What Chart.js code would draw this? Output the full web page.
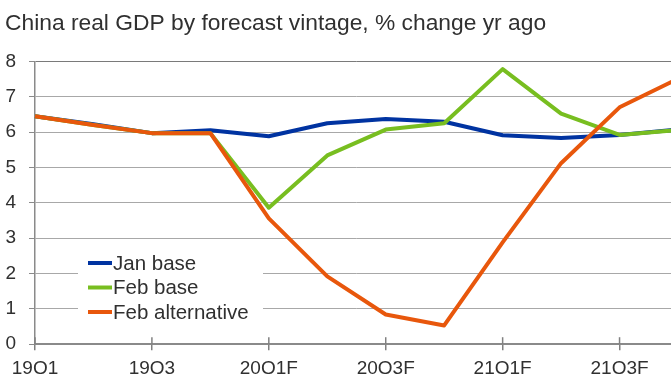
<!DOCTYPE html>
<html>
<head>
<meta charset="utf-8">
<title>China real GDP by forecast vintage</title>
<script src="https://cdn.jsdelivr.net/npm/chart.js@4.4.1/dist/chart.umd.min.js"></script>
<style>
    html, body { margin: 0; padding: 0; background: #fff; overflow: hidden; }
    #wrap { position: relative; width: 671px; height: 374px; overflow: hidden; }
    #gdpChart { position: absolute; left: 0; top: 0; }
</style>
</head>
<body>
<div id="wrap"><canvas id="gdpChart" width="690" height="390"></canvas></div>
<script>
// Quarters (last one runs off the right edge of the picture)
const QUARTERS = ['19Q1', '19Q2', '19Q3', '19Q4', '20Q1F', '20Q2F', '20Q3F', '20Q4F', '21Q1F', '21Q2F', '21Q3F', '21Q4F'];

// % change yr ago
const JAN_BASE = [6.45, 6.22, 5.97, 6.05, 5.88, 6.25, 6.37, 6.29, 5.91, 5.83, 5.92, 6.07];
const FEB_BASE = [6.45, 6.20, 5.97, 5.97, 3.86, 5.34, 6.07, 6.25, 7.78, 6.52, 5.92, 6.06];
const FEB_ALT  = [6.45, 6.20, 5.97, 5.97, 3.56, 1.92, 0.84, 0.53, 2.88, 5.12, 6.70, 7.51];

const SERIES_NAMES = ['Jan base', 'Feb base', 'Feb alternative'];
const Y_MIN = 0;
const Y_MAX = 8;

const TEXT_COLOR = '#303030';
Chart.defaults.font.family = "'Liberation Sans', Arial, sans-serif";

// small ticks that cross the x axis (inner half)
const innerTicks = {
    id: 'innerTicks',
    afterDraw(chart) {
        const { ctx, chartArea, scales } = chart;
        ctx.save();
        ctx.strokeStyle = '#808080';
        ctx.lineWidth = 1.5;
        scales.x.ticks.forEach((t, i) => {
            if (i % 2) return;
            const x = scales.x.getPixelForTick(i);
            ctx.beginPath();
            ctx.moveTo(x, chartArea.bottom - 7);
            ctx.lineTo(x, chartArea.bottom);
            ctx.stroke();
        });
        ctx.restore();
    }
};

// legend box sitting inside the plot, lower left
const insideLegend = {
    id: 'insideLegend',
    afterDraw(chart) {
        const ctx = chart.ctx;
        ctx.save();
        ctx.fillStyle = '#fff';
        ctx.fillRect(78, 251, 185, 72);
        ctx.font = "20.5px 'Liberation Sans', Arial, sans-serif";
        ctx.textBaseline = 'middle';
        chart.data.datasets.forEach((ds, i) => {
            const y = 263 + i * 24.5;
            ctx.strokeStyle = ds.borderColor;
            ctx.lineWidth = 4;
            ctx.beginPath();
            ctx.moveTo(88, y);
            ctx.lineTo(112, y);
            ctx.stroke();
            ctx.fillStyle = TEXT_COLOR;
            ctx.fillText(ds.label, 113, y + 1);
        });
        ctx.restore();
    }
};

const lineStyle = {
    borderWidth: 4,
    pointRadius: 0,
    tension: 0,
    borderJoinStyle: 'round',
    fill: false
};

new Chart(document.getElementById('gdpChart').getContext('2d'), {
    type: 'line',
    data: {
        labels: QUARTERS,
        datasets: [
            { label: SERIES_NAMES[0], data: JAN_BASE, borderColor: '#0033a1', order: 3, ...lineStyle },
            { label: SERIES_NAMES[1], data: FEB_BASE, borderColor: '#78be20', order: 2, ...lineStyle },
            { label: SERIES_NAMES[2], data: FEB_ALT, borderColor: '#e8570c', order: 1, ...lineStyle }
        ]
    },
    options: {
        responsive: false,
        animation: false,
        layout: { padding: { left: 5, right: 12, top: 0, bottom: 3 } },
        plugins: {
            legend: { display: false },
            tooltip: { enabled: false },
            title: {
                display: true,
                text: 'China real GDP by forecast vintage, % change yr ago',
                align: 'start',
                color: TEXT_COLOR,
                font: { size: 22.8, weight: 'normal' },
                padding: { top: 10, bottom: 24 }
            }
        },
        scales: {
            x: {
                offset: false,
                grid: {
                    drawOnChartArea: false,
                    tickLength: 6,
                    lineWidth: 1.5,
                    tickColor: ctx => (ctx.index % 2 === 0 ? '#808080' : 'rgba(0,0,0,0)')
                },
                border: { color: '#8a8a8a', width: 2 },
                ticks: {
                    autoSkip: false,
                    maxRotation: 0,
                    padding: 7,
                    color: TEXT_COLOR,
                    font: { size: 19 },
                    callback: (v, i) => (i % 2 === 0 ? QUARTERS[i] : '')
                }
            },
            y: {
                min: Y_MIN,
                max: Y_MAX,
                afterFit: scale => { scale.width = 30; },
                grid: {
                    color: ctx => (ctx.tick && ctx.tick.value === Y_MAX ? '#7a7a7a' : '#a8a8a8'),
                    lineWidth: 1,
                    tickLength: 6,
                    tickColor: '#8a8a8a'
                },
                border: { color: '#8a8a8a', width: 1.5 },
                ticks: {
                    stepSize: 1,
                    padding: 13,
                    color: TEXT_COLOR,
                    font: { size: 19 }
                }
            }
        }
    },
    plugins: [innerTicks, insideLegend]
});
</script>
</body>
</html>
